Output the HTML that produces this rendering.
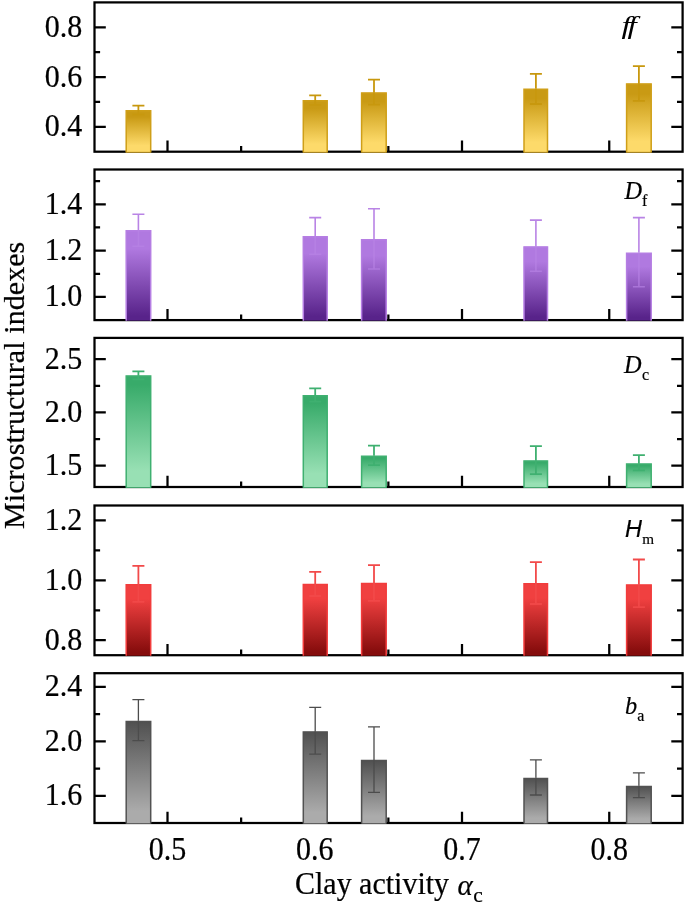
<!DOCTYPE html>
<html><head><meta charset="utf-8"><title>Microstructural indexes</title>
<style>html,body{margin:0;padding:0;background:#fff}svg{display:block}text{font-family:"Liberation Serif","Times New Roman",serif;fill:#000}.t{font-size:30px;stroke:#000;stroke-width:.22px}.l{font-size:24.3px;font-style:italic;stroke:#000;stroke-width:.2px}.s{font-size:16px;font-style:normal}</style></head><body>
<svg width="685" height="905" viewBox="0 0 685 905">
<defs>
<linearGradient id="g0" x1="0" y1="0" x2="0" y2="1"><stop offset="0" stop-color="#C99A14"/><stop offset="0.15" stop-color="#C99A14"/><stop offset="0.84" stop-color="#FDDA6A"/><stop offset="1" stop-color="#FDDA6A"/></linearGradient>
<linearGradient id="g1" x1="0" y1="0" x2="0" y2="1"><stop offset="0" stop-color="#B079E0"/><stop offset="0.2" stop-color="#B079E0"/><stop offset="0.95" stop-color="#58238A"/><stop offset="1" stop-color="#58238A"/></linearGradient>
<linearGradient id="g2" x1="0" y1="0" x2="0" y2="1"><stop offset="0" stop-color="#38AB6A"/><stop offset="0.08" stop-color="#38AB6A"/><stop offset="0.85" stop-color="#98E0B4"/><stop offset="1" stop-color="#98E0B4"/></linearGradient>
<linearGradient id="g3" x1="0" y1="0" x2="0" y2="1"><stop offset="0" stop-color="#F04040"/><stop offset="0.2" stop-color="#F04040"/><stop offset="0.95" stop-color="#850C0C"/><stop offset="1" stop-color="#850C0C"/></linearGradient>
<linearGradient id="g4" x1="0" y1="0" x2="0" y2="1"><stop offset="0" stop-color="#505050"/><stop offset="0.0" stop-color="#505050"/><stop offset="0.88" stop-color="#ABABAB"/><stop offset="1" stop-color="#ABABAB"/></linearGradient>
</defs>
<rect width="685" height="905" fill="#fff"/>
<g id="panel0">
<rect x="94.5" y="2.4" width="588.10" height="149.30" fill="none" stroke="#000" stroke-width="2.25"/>
<path d="M94.5 126.82h11.3M682.6 126.82h-11.3M94.5 77.05h11.3M682.6 77.05h-11.3M94.5 27.28h11.3M682.6 27.28h-11.3M94.5 101.93h5.6M682.6 101.93h-5.6M94.5 52.17h5.6M682.6 52.17h-5.6M167.50 151.7v-11.2M314.75 151.7v-11.2M462.00 151.7v-11.2M609.25 151.7v-11.2M241.13 151.7v-5.6M388.38 151.7v-5.6M535.63 151.7v-5.6" stroke="#000" stroke-width="2.25" fill="none"/>
<rect x="126.20" y="110.60" width="24.50" height="41.65" fill="url(#g0)"/>
<path d="M126.20 152.25V110.80H150.70V152.25" fill="none" stroke="#CF9F18" stroke-width="1.5"/>
<path d="M125.70 152.25H151.20" fill="none" stroke="#CF9F18" stroke-width="1" opacity="0.8"/>
<path d="M138.40 105.70V110.10M132.40 105.70h12" stroke="#C8980E" stroke-width="1.8" fill="none"/>
<path d="M138.40 110.10V114.50M132.40 114.50h12" stroke="#C8980E" stroke-width="1.8" fill="none" opacity="1"/>
<rect x="303.30" y="100.60" width="23.90" height="51.65" fill="url(#g0)"/>
<path d="M303.30 152.25V100.80H327.20V152.25" fill="none" stroke="#CF9F18" stroke-width="1.5"/>
<path d="M302.80 152.25H327.70" fill="none" stroke="#CF9F18" stroke-width="1" opacity="0.8"/>
<path d="M315.20 95.40V100.10M309.20 95.40h12" stroke="#C8980E" stroke-width="1.8" fill="none"/>
<path d="M315.20 100.10V104.80M309.20 104.80h12" stroke="#C8980E" stroke-width="1.8" fill="none" opacity="1"/>
<rect x="361.60" y="92.80" width="24.60" height="59.45" fill="url(#g0)"/>
<path d="M361.60 152.25V93.00H386.20V152.25" fill="none" stroke="#CF9F18" stroke-width="1.5"/>
<path d="M361.10 152.25H386.70" fill="none" stroke="#CF9F18" stroke-width="1" opacity="0.8"/>
<path d="M374.00 79.60V92.30M368.00 79.60h12" stroke="#C8980E" stroke-width="1.8" fill="none"/>
<path d="M374.00 92.30V104.70M368.00 104.70h12" stroke="#C8980E" stroke-width="1.8" fill="none" opacity="1"/>
<rect x="524.00" y="89.10" width="23.50" height="63.15" fill="url(#g0)"/>
<path d="M524.00 152.25V89.30H547.50V152.25" fill="none" stroke="#CF9F18" stroke-width="1.5"/>
<path d="M523.50 152.25H548.00" fill="none" stroke="#CF9F18" stroke-width="1" opacity="0.8"/>
<path d="M535.90 73.80V88.60M529.90 73.80h12" stroke="#C8980E" stroke-width="1.8" fill="none"/>
<path d="M535.90 88.60V104.00M529.90 104.00h12" stroke="#C8980E" stroke-width="1.8" fill="none" opacity="1"/>
<rect x="626.60" y="83.70" width="24.60" height="68.55" fill="url(#g0)"/>
<path d="M626.60 152.25V83.90H651.20V152.25" fill="none" stroke="#CF9F18" stroke-width="1.5"/>
<path d="M626.10 152.25H651.70" fill="none" stroke="#CF9F18" stroke-width="1" opacity="0.8"/>
<path d="M638.90 66.20V83.20M632.90 66.20h12" stroke="#C8980E" stroke-width="1.8" fill="none"/>
<path d="M638.90 83.20V100.80M632.90 100.80h12" stroke="#C8980E" stroke-width="1.8" fill="none" opacity="1"/>
<text class="t" transform="translate(82.2 136.32) scale(1 1.08)" text-anchor="end">0.4</text>
<text class="t" transform="translate(82.2 86.55) scale(1 1.08)" text-anchor="end">0.6</text>
<text class="t" transform="translate(82.2 36.78) scale(1 1.08)" text-anchor="end">0.8</text>
</g>
<g id="panel1">
<rect x="94.5" y="169.5" width="588.10" height="150.60" fill="none" stroke="#000" stroke-width="2.25"/>
<path d="M94.5 296.93h11.3M682.6 296.93h-11.3M94.5 250.59h11.3M682.6 250.59h-11.3M94.5 204.25h11.3M682.6 204.25h-11.3M94.5 273.76h5.6M682.6 273.76h-5.6M94.5 227.42h5.6M682.6 227.42h-5.6M94.5 181.08h5.6M682.6 181.08h-5.6M167.50 320.1v-11.2M314.75 320.1v-11.2M462.00 320.1v-11.2M609.25 320.1v-11.2M241.13 320.1v-5.6M388.38 320.1v-5.6M535.63 320.1v-5.6" stroke="#000" stroke-width="2.25" fill="none"/>
<rect x="126.20" y="230.55" width="24.50" height="90.10" fill="url(#g1)"/>
<path d="M126.20 320.65V230.75H150.70V320.65" fill="none" stroke="#B57EE3" stroke-width="1.5"/>
<path d="M138.40 214.20V230.05M132.40 214.20h12" stroke="#B984E5" stroke-width="1.6" fill="none"/>
<path d="M138.40 230.05V246.30M132.40 246.30h12" stroke="#B984E5" stroke-width="1.6" fill="none" opacity="0.65"/>
<rect x="303.30" y="236.60" width="23.90" height="84.05" fill="url(#g1)"/>
<path d="M303.30 320.65V236.80H327.20V320.65" fill="none" stroke="#B57EE3" stroke-width="1.5"/>
<path d="M315.20 217.60V236.10M309.20 217.60h12" stroke="#B984E5" stroke-width="1.6" fill="none"/>
<path d="M315.20 236.10V254.20M309.20 254.20h12" stroke="#B984E5" stroke-width="1.6" fill="none" opacity="0.65"/>
<rect x="361.60" y="239.60" width="24.60" height="81.05" fill="url(#g1)"/>
<path d="M361.60 320.65V239.80H386.20V320.65" fill="none" stroke="#B57EE3" stroke-width="1.5"/>
<path d="M374.00 208.80V239.10M368.00 208.80h12" stroke="#B984E5" stroke-width="1.6" fill="none"/>
<path d="M374.00 239.10V269.00M368.00 269.00h12" stroke="#B984E5" stroke-width="1.6" fill="none" opacity="0.65"/>
<rect x="524.00" y="246.70" width="23.50" height="73.95" fill="url(#g1)"/>
<path d="M524.00 320.65V246.90H547.50V320.65" fill="none" stroke="#B57EE3" stroke-width="1.5"/>
<path d="M535.90 220.10V246.20M529.90 220.10h12" stroke="#B984E5" stroke-width="1.6" fill="none"/>
<path d="M535.90 246.20V271.30M529.90 271.30h12" stroke="#B984E5" stroke-width="1.6" fill="none" opacity="0.65"/>
<rect x="626.60" y="253.10" width="24.60" height="67.55" fill="url(#g1)"/>
<path d="M626.60 320.65V253.30H651.20V320.65" fill="none" stroke="#B57EE3" stroke-width="1.5"/>
<path d="M638.90 217.60V252.60M632.90 217.60h12" stroke="#B984E5" stroke-width="1.6" fill="none"/>
<path d="M638.90 252.60V286.70M632.90 286.70h12" stroke="#B984E5" stroke-width="1.6" fill="none" opacity="0.65"/>
<text class="t" transform="translate(82.2 306.43) scale(1 1.08)" text-anchor="end">1.0</text>
<text class="t" transform="translate(82.2 260.09) scale(1 1.08)" text-anchor="end">1.2</text>
<text class="t" transform="translate(82.2 213.75) scale(1 1.08)" text-anchor="end">1.4</text>
</g>
<g id="panel2">
<rect x="94.5" y="337.9" width="588.10" height="149.10" fill="none" stroke="#000" stroke-width="2.25"/>
<path d="M94.5 465.70h11.3M682.6 465.70h-11.3M94.5 412.45h11.3M682.6 412.45h-11.3M94.5 359.20h11.3M682.6 359.20h-11.3M94.5 439.07h5.6M682.6 439.07h-5.6M94.5 385.82h5.6M682.6 385.82h-5.6M167.50 487.0v-11.2M314.75 487.0v-11.2M462.00 487.0v-11.2M609.25 487.0v-11.2M241.13 487.0v-5.6M388.38 487.0v-5.6M535.63 487.0v-5.6" stroke="#000" stroke-width="2.25" fill="none"/>
<rect x="126.20" y="375.80" width="24.50" height="111.75" fill="url(#g2)"/>
<path d="M126.20 487.55V376.00H150.70V487.55" fill="none" stroke="#3FB070" stroke-width="1.5"/>
<path d="M125.70 487.55H151.20" fill="none" stroke="#3FB070" stroke-width="1" opacity="0.8"/>
<path d="M138.40 371.30V375.30M132.40 371.30h12" stroke="#3FB070" stroke-width="1.8" fill="none"/>
<path d="M138.40 375.30V379.30M132.40 379.30h12" stroke="#3FB070" stroke-width="1.8" fill="none" opacity="1"/>
<rect x="303.30" y="395.50" width="23.90" height="92.05" fill="url(#g2)"/>
<path d="M303.30 487.55V395.70H327.20V487.55" fill="none" stroke="#3FB070" stroke-width="1.5"/>
<path d="M302.80 487.55H327.70" fill="none" stroke="#3FB070" stroke-width="1" opacity="0.8"/>
<path d="M315.20 388.40V395.00M309.20 388.40h12" stroke="#3FB070" stroke-width="1.8" fill="none"/>
<path d="M315.20 395.00V401.60M309.20 401.60h12" stroke="#3FB070" stroke-width="1.8" fill="none" opacity="1"/>
<rect x="361.60" y="456.00" width="24.60" height="31.55" fill="url(#g2)"/>
<path d="M361.60 487.55V456.20H386.20V487.55" fill="none" stroke="#3FB070" stroke-width="1.5"/>
<path d="M361.10 487.55H386.70" fill="none" stroke="#3FB070" stroke-width="1" opacity="0.8"/>
<path d="M374.00 445.60V455.50M368.00 445.60h12" stroke="#3FB070" stroke-width="1.8" fill="none"/>
<path d="M374.00 455.50V465.20M368.00 465.20h12" stroke="#3FB070" stroke-width="1.8" fill="none" opacity="1"/>
<rect x="524.00" y="460.80" width="23.50" height="26.75" fill="url(#g2)"/>
<path d="M524.00 487.55V461.00H547.50V487.55" fill="none" stroke="#3FB070" stroke-width="1.5"/>
<path d="M523.50 487.55H548.00" fill="none" stroke="#3FB070" stroke-width="1" opacity="0.8"/>
<path d="M535.90 446.20V460.30M529.90 446.20h12" stroke="#3FB070" stroke-width="1.8" fill="none"/>
<path d="M535.90 460.30V474.20M529.90 474.20h12" stroke="#3FB070" stroke-width="1.8" fill="none" opacity="1"/>
<rect x="626.60" y="463.90" width="24.60" height="23.65" fill="url(#g2)"/>
<path d="M626.60 487.55V464.10H651.20V487.55" fill="none" stroke="#3FB070" stroke-width="1.5"/>
<path d="M626.10 487.55H651.70" fill="none" stroke="#3FB070" stroke-width="1" opacity="0.8"/>
<path d="M638.90 455.20V463.40M632.90 455.20h12" stroke="#3FB070" stroke-width="1.8" fill="none"/>
<path d="M638.90 463.40V470.30M632.90 470.30h12" stroke="#3FB070" stroke-width="1.8" fill="none" opacity="1"/>
<text class="t" transform="translate(82.2 475.20) scale(1 1.08)" text-anchor="end">1.5</text>
<text class="t" transform="translate(82.2 421.95) scale(1 1.08)" text-anchor="end">2.0</text>
<text class="t" transform="translate(82.2 368.70) scale(1 1.08)" text-anchor="end">2.5</text>
</g>
<g id="panel3">
<rect x="94.5" y="505.5" width="588.10" height="149.70" fill="none" stroke="#000" stroke-width="2.25"/>
<path d="M94.5 640.23h11.3M682.6 640.23h-11.3M94.5 580.35h11.3M682.6 580.35h-11.3M94.5 520.47h11.3M682.6 520.47h-11.3M94.5 610.29h5.6M682.6 610.29h-5.6M94.5 550.41h5.6M682.6 550.41h-5.6M167.50 655.2v-11.2M314.75 655.2v-11.2M462.00 655.2v-11.2M609.25 655.2v-11.2M241.13 655.2v-5.6M388.38 655.2v-5.6M535.63 655.2v-5.6" stroke="#000" stroke-width="2.25" fill="none"/>
<rect x="126.20" y="584.60" width="24.50" height="71.15" fill="url(#g3)"/>
<path d="M126.20 655.75V584.80H150.70V655.75" fill="none" stroke="#F23C3C" stroke-width="1.5"/>
<path d="M138.40 565.80V584.10M132.40 565.80h12" stroke="#F24A4A" stroke-width="1.8" fill="none"/>
<path d="M138.40 584.10V601.80M132.40 601.80h12" stroke="#F24A4A" stroke-width="1.8" fill="none" opacity="0.85"/>
<rect x="303.30" y="584.40" width="23.90" height="71.35" fill="url(#g3)"/>
<path d="M303.30 655.75V584.60H327.20V655.75" fill="none" stroke="#F23C3C" stroke-width="1.5"/>
<path d="M315.20 571.90V583.90M309.20 571.90h12" stroke="#F24A4A" stroke-width="1.8" fill="none"/>
<path d="M315.20 583.90V596.00M309.20 596.00h12" stroke="#F24A4A" stroke-width="1.8" fill="none" opacity="0.85"/>
<rect x="361.60" y="583.40" width="24.60" height="72.35" fill="url(#g3)"/>
<path d="M361.60 655.75V583.60H386.20V655.75" fill="none" stroke="#F23C3C" stroke-width="1.5"/>
<path d="M374.00 565.10V582.90M368.00 565.10h12" stroke="#F24A4A" stroke-width="1.8" fill="none"/>
<path d="M374.00 582.90V600.80M368.00 600.80h12" stroke="#F24A4A" stroke-width="1.8" fill="none" opacity="0.85"/>
<rect x="524.00" y="583.50" width="23.50" height="72.25" fill="url(#g3)"/>
<path d="M524.00 655.75V583.70H547.50V655.75" fill="none" stroke="#F23C3C" stroke-width="1.5"/>
<path d="M535.90 562.10V583.00M529.90 562.10h12" stroke="#F24A4A" stroke-width="1.8" fill="none"/>
<path d="M535.90 583.00V604.00M529.90 604.00h12" stroke="#F24A4A" stroke-width="1.8" fill="none" opacity="0.85"/>
<rect x="626.60" y="584.80" width="24.60" height="70.95" fill="url(#g3)"/>
<path d="M626.60 655.75V585.00H651.20V655.75" fill="none" stroke="#F23C3C" stroke-width="1.5"/>
<path d="M638.90 559.50V584.30M632.90 559.50h12" stroke="#F24A4A" stroke-width="1.8" fill="none"/>
<path d="M638.90 584.30V607.20M632.90 607.20h12" stroke="#F24A4A" stroke-width="1.8" fill="none" opacity="0.85"/>
<text class="t" transform="translate(82.2 649.73) scale(1 1.08)" text-anchor="end">0.8</text>
<text class="t" transform="translate(82.2 589.85) scale(1 1.08)" text-anchor="end">1.0</text>
<text class="t" transform="translate(82.2 529.97) scale(1 1.08)" text-anchor="end">1.2</text>
</g>
<g id="panel4">
<rect x="94.5" y="673.2" width="588.10" height="149.80" fill="none" stroke="#000" stroke-width="2.25"/>
<path d="M94.5 795.76h11.3M682.6 795.76h-11.3M94.5 741.29h11.3M682.6 741.29h-11.3M94.5 686.82h11.3M682.6 686.82h-11.3M94.5 768.53h5.6M682.6 768.53h-5.6M94.5 714.05h5.6M682.6 714.05h-5.6M167.50 823.0v-11.2M314.75 823.0v-11.2M462.00 823.0v-11.2M609.25 823.0v-11.2M241.13 823.0v-5.6M388.38 823.0v-5.6M535.63 823.0v-5.6" stroke="#000" stroke-width="2.25" fill="none"/>
<rect x="126.20" y="721.30" width="24.50" height="102.25" fill="url(#g4)"/>
<path d="M126.20 823.55V721.50H150.70V823.55" fill="none" stroke="#525252" stroke-width="1.5"/>
<path d="M138.40 699.60V720.80M132.40 699.60h12" stroke="#4C4C4C" stroke-width="1.3" fill="none"/>
<path d="M138.40 720.80V740.60M132.40 740.60h12" stroke="#4C4C4C" stroke-width="1.3" fill="none" opacity="1"/>
<rect x="303.30" y="731.80" width="23.90" height="91.75" fill="url(#g4)"/>
<path d="M303.30 823.55V732.00H327.20V823.55" fill="none" stroke="#525252" stroke-width="1.5"/>
<path d="M315.20 707.40V731.30M309.20 707.40h12" stroke="#4C4C4C" stroke-width="1.3" fill="none"/>
<path d="M315.20 731.30V754.20M309.20 754.20h12" stroke="#4C4C4C" stroke-width="1.3" fill="none" opacity="1"/>
<rect x="361.60" y="760.40" width="24.60" height="63.15" fill="url(#g4)"/>
<path d="M361.60 823.55V760.60H386.20V823.55" fill="none" stroke="#525252" stroke-width="1.5"/>
<path d="M374.00 726.80V759.90M368.00 726.80h12" stroke="#4C4C4C" stroke-width="1.3" fill="none"/>
<path d="M374.00 759.90V792.30M368.00 792.30h12" stroke="#4C4C4C" stroke-width="1.3" fill="none" opacity="1"/>
<rect x="524.00" y="778.30" width="23.50" height="45.25" fill="url(#g4)"/>
<path d="M524.00 823.55V778.50H547.50V823.55" fill="none" stroke="#525252" stroke-width="1.5"/>
<path d="M535.90 759.90V777.80M529.90 759.90h12" stroke="#4C4C4C" stroke-width="1.3" fill="none"/>
<path d="M535.90 777.80V795.00M529.90 795.00h12" stroke="#4C4C4C" stroke-width="1.3" fill="none" opacity="1"/>
<rect x="626.60" y="786.20" width="24.60" height="37.35" fill="url(#g4)"/>
<path d="M626.60 823.55V786.40H651.20V823.55" fill="none" stroke="#525252" stroke-width="1.5"/>
<path d="M638.90 772.90V785.70M632.90 772.90h12" stroke="#4C4C4C" stroke-width="1.3" fill="none"/>
<path d="M638.90 785.70V797.60M632.90 797.60h12" stroke="#4C4C4C" stroke-width="1.3" fill="none" opacity="1"/>
<text class="t" transform="translate(82.2 805.26) scale(1 1.08)" text-anchor="end">1.6</text>
<text class="t" transform="translate(82.2 750.79) scale(1 1.08)" text-anchor="end">2.0</text>
<text class="t" transform="translate(82.2 696.32) scale(1 1.08)" text-anchor="end">2.4</text>
</g>
<text class="t" transform="translate(167.50 859.7) scale(1 1.1)" text-anchor="middle">0.5</text>
<text class="t" transform="translate(314.75 859.7) scale(1 1.1)" text-anchor="middle">0.6</text>
<text class="t" transform="translate(462.00 859.7) scale(1 1.1)" text-anchor="middle">0.7</text>
<text class="t" transform="translate(609.25 859.7) scale(1 1.1)" text-anchor="middle">0.8</text>
<text class="t" transform="translate(295 894.3) scale(1 1.07)">Clay activity</text>
<text class="t" x="457.6" y="894.5" style="font-style:italic;font-size:29px">α</text>
<text class="t" x="473.2" y="901.7" style="font-size:21.5px">c</text>
<text class="t" transform="translate(23.8 529.0) rotate(-90)" style="letter-spacing:.07px">Microstructural indexes</text>
<text class="l" transform="translate(621.6 33.6) scale(1.3 1)" style="font-size:25.5px;stroke:none;letter-spacing:-2.5px">ff</text>
<text class="l" x="624.5" y="198.8">D<tspan class="s" dy="6.8">f</tspan></text>
<text class="l" x="624.0" y="373.3">D<tspan class="s" dy="6.6" dx="0.4">c</tspan></text>
<text class="l" x="625" y="537.1" style="font-family:'Liberation Sans',Arial,sans-serif;font-size:23.5px">H<tspan class="s" dy="7" dx="0.3" style="font-family:'Liberation Serif',serif;font-size:15.2px">m</tspan></text>
<text class="l" x="625.0" y="714.3">b<tspan class="s" dy="6.7">a</tspan></text>
</svg></body></html>
